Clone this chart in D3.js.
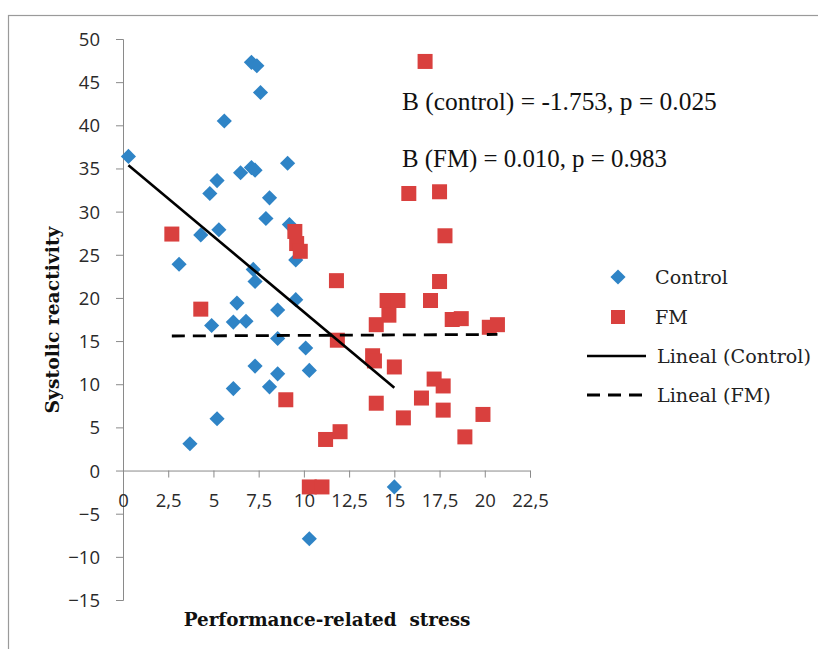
<!DOCTYPE html>
<html>
<head>
<meta charset="utf-8">
<script src="https://cdn.jsdelivr.net/npm/d3@7"></script>
<style>
  html, body { margin: 0; padding: 0; background: #fff; }
  svg { display: block; }
</style>
</head>
<body>
<svg id="chart" width="818" height="649"></svg>
<script>
// ---- data ----
const controlX = [0.3, 3.1, 3.7, 4.3, 4.8, 4.9, 5.2, 5.2, 5.3, 5.6, 6.1, 6.1, 6.3, 6.5, 6.8, 7.1, 7.4, 7.1, 7.3, 7.2, 7.3, 7.3, 7.6, 7.9, 8.1, 8.1, 8.55, 8.55, 8.55, 9.1, 9.2, 9.55, 9.55, 10.1, 10.3, 10.3, 15.0];
const controlY = [36.4, 23.9, 3.1, 27.3, 32.1, 16.8, 33.6, 6.0, 27.9, 40.5, 17.2, 9.5, 19.4, 34.5, 17.3, 47.3, 46.9, 35.1, 34.8, 23.3, 21.9, 12.1, 43.8, 29.2, 31.6, 9.7, 18.6, 15.3, 11.2, 35.6, 28.5, 24.4, 19.8, 14.2, 11.6, -7.9, -1.9];
const fmX = [2.7, 4.3, 9.0, 9.5, 9.6, 9.8, 10.3, 11.0, 11.2, 12.0, 11.8, 11.85, 13.8, 13.9, 14.0, 14.0, 14.6, 14.7, 15.2, 15.0, 15.5, 15.8, 16.5, 16.7, 17.0, 17.2, 17.5, 17.5, 17.7, 17.7, 17.8, 18.2, 18.7, 18.9, 19.9, 20.25, 20.7];
const fmY = [27.4, 18.7, 8.2, 27.7, 26.3, 25.4, -1.9, -1.9, 3.6, 4.5, 22.0, 15.1, 13.3, 12.7, 7.8, 16.9, 19.7, 18.0, 19.7, 12.0, 6.1, 32.1, 8.4, 47.4, 19.7, 10.6, 32.3, 21.9, 9.8, 7.0, 27.2, 17.5, 17.6, 3.9, 6.5, 16.6, 16.9];
// linear trendlines: [intercept, slope]
const controlTrend = [35.9, -1.753];
const fmTrend = [15.56, 0.010];
const xTicks = [0, 2.5, 5, 7.5, 10, 12.5, 15, 17.5, 20, 22.5];
const xTickLabels = ["0", "2,5", "5", "7,5", "10", "12,5", "15", "17,5", "20", "22,5"];
const yTicks = [-15, -10, -5, 0, 5, 10, 15, 20, 25, 30, 35, 40, 45, 50];
const legendLabels = ["Control", "FM", "Lineal (Control)", "Lineal (FM)"];
const annotations = ["B (control) = -1.753, p = 0.025", "B (FM) = 0.010, p = 0.983"];
const xTitle = "Performance-related\u00a0\u00a0stress";
const yTitle = "Systolic reactivity";

// ---- drawing ----
const blue = "#2f84c6", red = "#d9403e", axisCol = "#8a8a8a";
const svg = d3.select("#chart");

// fit a text element's font size so its natural width equals target
function fit(sel, target, base) {
  sel.attr("font-size", base);
  const w = sel.node().getComputedTextLength();
  sel.attr("font-size", base * target / w);
}

svg.append("rect").attr("x", 8.5).attr("y", 15.5).attr("width", 830).attr("height", 660)
  .attr("fill", "#fff").attr("stroke", "#9a9a9a").attr("stroke-width", 1.2);

const x = d3.scaleLinear().domain([0, 22.5]).range([123, 530]);
const y = d3.scaleLinear().domain([-15, 50]).range([600, 39]);

const tickFont = "'Open Sans', sans-serif";

// y axis
const yAxis = svg.append("g").attr("transform", `translate(${x(0)},0)`)
  .call(d3.axisLeft(y).tickValues(yTicks).tickSize(7).tickPadding(16).tickFormat(d3.format("d")));
yAxis.select(".domain").attr("stroke", axisCol);
yAxis.selectAll(".tick line").attr("stroke", axisCol);
yAxis.selectAll(".tick text").attr("font-family", tickFont).attr("font-size", 18.5).attr("fill", "#2a2a2a").attr("dy", "0.35em");

// x axis at y=0
const xAxis = svg.append("g").attr("transform", `translate(0,${y(0)})`)
  .call(d3.axisBottom(x).tickValues(xTicks).tickSize(7).tickSizeOuter(7).tickFormat((d, i) => xTickLabels[i]));
xAxis.select(".domain").attr("stroke", axisCol);
xAxis.selectAll(".tick line").attr("stroke", axisCol);
xAxis.selectAll(".tick text").attr("font-family", tickFont).attr("font-size", 18.5).attr("fill", "#2a2a2a")
  .attr("y", 30).attr("dy", "0.35em");

// points
const diamond = d3.symbol().type(d3.symbolSquare).size(115);
const ctrl = controlX.map((v, i) => [v, controlY[i]]);
const fm = fmX.map((v, i) => [v, fmY[i]]);

svg.append("g").selectAll("path").data(ctrl).join("path")
  .attr("d", diamond)
  .attr("transform", d => `translate(${x(d[0])},${y(d[1])}) rotate(45)`)
  .attr("fill", blue);

const sq = 15;
svg.append("g").selectAll("rect").data(fm).join("rect")
  .attr("x", d => x(d[0]) - sq / 2).attr("y", d => y(d[1]) - sq / 2)
  .attr("width", sq).attr("height", sq).attr("fill", red);

// trendlines
const cx0 = d3.min(controlX), cx1 = d3.max(controlX);
svg.append("line")
  .attr("x1", x(cx0)).attr("y1", y(controlTrend[0] + controlTrend[1] * cx0))
  .attr("x2", x(cx1)).attr("y2", y(controlTrend[0] + controlTrend[1] * cx1))
  .attr("stroke", "#000").attr("stroke-width", 2.6);
const fx0 = d3.min(fmX), fx1 = d3.max(fmX);
svg.append("line")
  .attr("x1", x(fx0)).attr("y1", y(fmTrend[0] + fmTrend[1] * fx0))
  .attr("x2", x(fx1)).attr("y2", y(fmTrend[0] + fmTrend[1] * fx1))
  .attr("stroke", "#000").attr("stroke-width", 2.8).attr("stroke-dasharray", "13,8");

// annotations
const annW = [315, 265];
svg.selectAll("text.ann").data(annotations).join("text").attr("class", "ann")
  .attr("x", 402).attr("y", (d, i) => 110 + i * 57)
  .attr("font-family", "'Liberation Serif', 'Times New Roman', serif")
  .attr("fill", "#111")
  .text(d => d)
  .each(function (d, i) { fit(d3.select(this), annW[i], 20); });

// legend
const lgY = [277, 317, 356, 395];
const lg = svg.append("g");
lg.append("path").attr("d", diamond).attr("transform", `translate(618,${lgY[0]}) rotate(45)`).attr("fill", blue);
lg.append("rect").attr("x", 618 - 7).attr("y", lgY[1] - 7).attr("width", 14).attr("height", 14).attr("fill", red);
lg.append("line").attr("x1", 587).attr("x2", 646).attr("y1", lgY[2]).attr("y2", lgY[2]).attr("stroke", "#000").attr("stroke-width", 2.6);
lg.append("line").attr("x1", 587).attr("x2", 646).attr("y1", lgY[3]).attr("y2", lgY[3]).attr("stroke", "#000").attr("stroke-width", 2.8).attr("stroke-dasharray", "13,8");
const lgText = lg.selectAll("text").data(legendLabels).join("text")
  .attr("x", (d, i) => i < 2 ? 655 : 657).attr("y", (d, i) => lgY[i]).attr("dy", "0.35em")
  .attr("font-family", "'DejaVu Serif', serif").attr("fill", "#222")
  .text(d => d);
// size from the longest entry
const probe = lg.append("text").attr("font-family", "'DejaVu Serif', serif").text(legendLabels[2]);
fit(probe, 154, 16);
lgText.attr("font-size", probe.attr("font-size"));
probe.remove();

// axis titles
const xt = svg.append("text").attr("x", 327).attr("y", 620).attr("dy", "0.35em").attr("text-anchor", "middle")
  .attr("font-family", "'DejaVu Serif', serif").attr("font-weight", "bold")
  .attr("fill", "#111").text(xTitle);
fit(xt, 287, 16);
const yt = svg.append("text").attr("transform", "translate(52,320) rotate(-90)").attr("dy", "0.35em").attr("text-anchor", "middle")
  .attr("font-family", "'DejaVu Serif', serif").attr("font-weight", "bold")
  .attr("fill", "#111").text(yTitle);
fit(yt, 187, 16);
</script>
</body>
</html>
